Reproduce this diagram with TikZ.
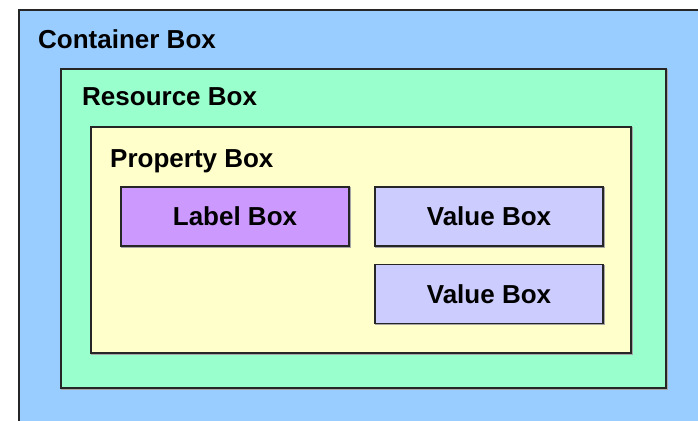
\documentclass[tikz,border=0pt]{standalone}
\usepackage{fontspec}
\setmainfont{Liberation Sans}
\begin{document}
\begin{tikzpicture}[x=1pt,y=-1pt,
  frame/.style={draw=black!85,line width=1.6pt,
    preaction={draw=black!35,line width=1.6pt,transform canvas={shift={(1pt,-1pt)}}}},
  title/.style={anchor=west,inner sep=0pt,font=\fontsize{26}{31}\selectfont\bfseries},
  inbox/.style={frame,minimum width=228pt,minimum height=59pt,inner sep=0pt,
    font=\fontsize{26}{31}\selectfont\bfseries}]
\definecolor{contblue}{HTML}{99CCFF}
\definecolor{resgreen}{HTML}{99FFCC}
\definecolor{propyellow}{HTML}{FFFFCC}
\definecolor{labpurple}{HTML}{CC99FF}
\definecolor{vallav}{HTML}{CCCCFF}
\useasboundingbox (0,0) rectangle (698,420);
\fill[white] (0,0) rectangle (698,420);
% container box, running off the right and bottom edges
\begin{scope}
  \clip (0,0) rectangle (698,420);
  \draw[frame,fill=contblue] (19,10) rectangle (712,440);
\end{scope}
\node[title] (ct) at (38,39) {Container Box};
% resource box
\draw[frame,fill=resgreen] (61,69) rectangle (666,388);
\node[title] (rt) at (82,97) {Resource Box};
% property box
\draw[frame,fill=propyellow] (91,127) rectangle (631,353);
\node[title,anchor=base west] (pt) at (110,167) {Property Box};
% label and value boxes
\node[inbox,fill=labpurple] (lab) at (235,216.5) {Label Box};
\node[inbox,fill=vallav] (v1) at (489,216.5) {Value Box};
\node[inbox,fill=vallav] (v2) at (489,294) {Value Box};
\end{tikzpicture}
\end{document}
